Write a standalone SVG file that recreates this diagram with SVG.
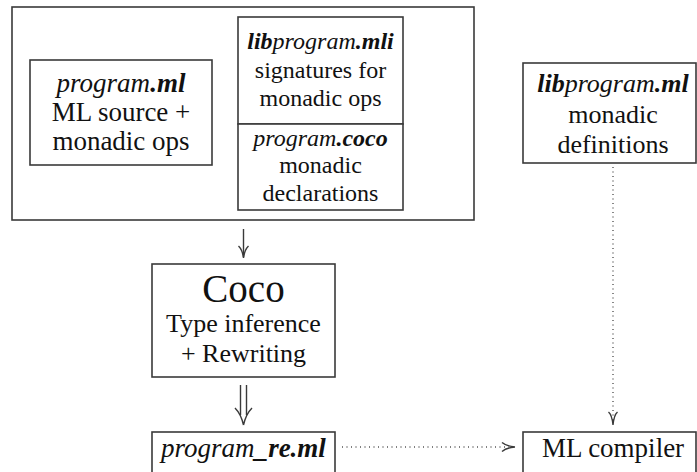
<svg xmlns="http://www.w3.org/2000/svg" width="697" height="472" viewBox="0 0 697 472">
  <defs>
    <style>
      .box { fill: #ffffff; stroke: #3a3a3a; stroke-width: 1.6; }
      .it { font-style: italic; }
      .bi { font-style: italic; font-weight: bold; }
      .solid { fill: none; stroke: #3a3a3a; stroke-width: 1.4; }
      .dot { fill: none; stroke: #555555; stroke-width: 1.4; stroke-dasharray: 1 3.5; }
    </style>
  </defs>
  <rect width="697" height="472" fill="#ffffff"/>

  <!-- inputs container -->
  <g id="inputs">
    <rect class="box" x="12" y="7" width="462" height="213"/>
  </g>

  <g id="program-ml">
    <rect class="box" x="30" y="60" width="182" height="105"/>
    <text x="121" y="92" font-size="27" font-family="'Liberation Serif', serif" text-anchor="middle" fill="#111"><tspan class="it">program</tspan><tspan class="bi">.ml</tspan></text>
    <text x="121" y="121" font-size="27" font-family="'Liberation Serif', serif" text-anchor="middle" fill="#111">ML source +</text>
    <text x="121" y="150" font-size="27" font-family="'Liberation Serif', serif" text-anchor="middle" fill="#111">monadic ops</text>
  </g>

  <g id="libprogram-mli">
    <rect class="box" x="238" y="17" width="165" height="107"/>
    <text x="320.5" y="49" font-size="24" font-family="'Liberation Serif', serif" text-anchor="middle" fill="#111"><tspan class="bi">lib</tspan><tspan class="it">program</tspan><tspan class="bi">.mli</tspan></text>
    <text x="320.5" y="78" font-size="24" font-family="'Liberation Serif', serif" text-anchor="middle" fill="#111">signatures for</text>
    <text x="320.5" y="106" font-size="24" font-family="'Liberation Serif', serif" text-anchor="middle" fill="#111">monadic ops</text>
  </g>

  <g id="program-coco">
    <rect class="box" x="238" y="124" width="165" height="86"/>
    <text x="320.5" y="146" font-size="24" font-family="'Liberation Serif', serif" text-anchor="middle" fill="#111"><tspan class="it">program</tspan><tspan class="bi">.coco</tspan></text>
    <text x="320.5" y="173" font-size="24" font-family="'Liberation Serif', serif" text-anchor="middle" fill="#111">monadic</text>
    <text x="320.5" y="201" font-size="24" font-family="'Liberation Serif', serif" text-anchor="middle" fill="#111">declarations</text>
  </g>

  <g id="libprogram-ml">
    <rect class="box" x="523" y="63" width="173" height="100"/>
    <text x="613" y="92" font-size="26" font-family="'Liberation Serif', serif" text-anchor="middle" fill="#111"><tspan class="bi">lib</tspan><tspan class="it">program</tspan><tspan class="bi">.ml</tspan></text>
    <text x="613" y="123" font-size="26" font-family="'Liberation Serif', serif" text-anchor="middle" fill="#111">monadic</text>
    <text x="613" y="153" font-size="26" font-family="'Liberation Serif', serif" text-anchor="middle" fill="#111">definitions</text>
  </g>

  <g id="coco">
    <rect class="box" x="152" y="264" width="183" height="113"/>
    <text x="243.5" y="302" font-size="39" font-family="'Liberation Serif', serif" text-anchor="middle" fill="#111">Coco</text>
    <text x="243.5" y="332" font-size="26" font-family="'Liberation Serif', serif" text-anchor="middle" fill="#111">Type inference</text>
    <text x="243.5" y="362" font-size="26" font-family="'Liberation Serif', serif" text-anchor="middle" fill="#111">+ Rewriting</text>
  </g>

  <g id="program-re-ml">
    <rect class="box" x="152" y="432" width="183" height="50"/>
    <text x="243.5" y="457" font-size="27" font-family="'Liberation Serif', serif" text-anchor="middle" fill="#111"><tspan class="it">program</tspan><tspan class="bi">_re.ml</tspan></text>
  </g>

  <g id="ml-compiler">
    <rect class="box" x="523" y="432" width="173" height="50"/>
    <text x="613" y="457" font-size="27" font-family="'Liberation Serif', serif" text-anchor="middle" fill="#111">ML compiler</text>
  </g>

  <!-- connectors -->
  <g id="connectors">
    <!-- inputs to Coco -->
    <path class="solid" d="M243.5,229 V257"/>
    <path class="solid" d="M238.5,246 Q242.5,250 243.5,258 M248.5,246 Q244.5,250 243.5,258"/>
    <!-- Coco to rewritten program (double arrow) -->
    <path class="solid" d="M240.5,385 V415 M246.5,385 V415"/>
    <path class="solid" d="M235,408 Q241,414 243.5,425 M252,408 Q246,414 243.5,425"/>
    <!-- library definitions to compiler -->
    <path class="dot" d="M613,167 V420"/>
    <path class="solid" d="M608.5,412 Q612,415 613,425 M617.5,412 Q614,415 613,425"/>
    <!-- rewritten program to compiler -->
    <path class="dot" d="M342,447 H512"/>
    <path class="solid" d="M502,442.5 Q506,446 515,447 M502,451.5 Q506,448 515,447"/>
  </g>
</svg>
